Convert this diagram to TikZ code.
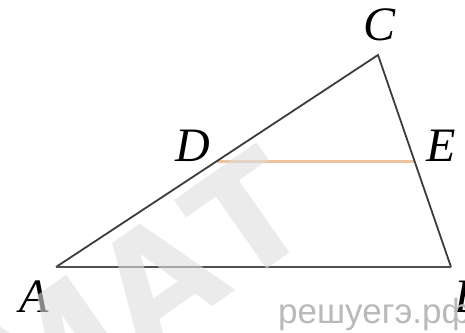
\documentclass[tikz,border=0pt]{standalone}
\usepackage{fontspec}
\setmainfont{Liberation Serif}
\newfontfamily\wmfont{Liberation Sans}
\newfontfamily\bigwm{DejaVu Sans}
\definecolor{edgegray}{RGB}{60,60,60}
\definecolor{peach}{RGB}{236,196,160}
\definecolor{wmgray}{RGB}{185,185,185}
\definecolor{bigwmgray}{RGB}{222,222,222}
\tikzset{
  side/.style={draw=edgegray, line width=1.8pt},
  base/.style={draw=edgegray!90, line width=2.6pt},
  mid/.style={draw=peach, line width=3pt},
  lbl/.style={font=\fontsize{48}{48}\selectfont\itshape, inner sep=0pt},
}
\begin{document}
\begin{tikzpicture}[x=1pt,y=-1pt]
\useasboundingbox (0,0) rectangle (465,332);
\coordinate (A) at (56,267);
\coordinate (B) at (451,267);
\coordinate (C) at (378,55);
\coordinate (D) at (217,161);
\coordinate (E) at (415,161);
\draw[mid] (D) -- (E);
\draw[side] (A) -- (C) -- (B);
\draw[base] (A) -- (B);
\node[lbl] (lA) at (34,297) {A};
\node[lbl] (lB) at (469,297) {B};
\node[lbl] (lC) at (380,25) {C};
\node[lbl] (lD) at (193,146) {D};
\node[lbl] (lE) at (441,146) {E};
\node[font=\wmfont\fontsize{35}{35}\selectfont, text=wmgray, anchor=base west, inner sep=0pt] (wm) at (278,323) {решуегэ.рф};
\node[font=\bigwm\bfseries\fontsize{150}{150}\selectfont, text=bigwmgray, text opacity=0.6, rotate=35, inner sep=0pt] (mat) at (138,292) {МАТ};
\end{tikzpicture}
\end{document}
